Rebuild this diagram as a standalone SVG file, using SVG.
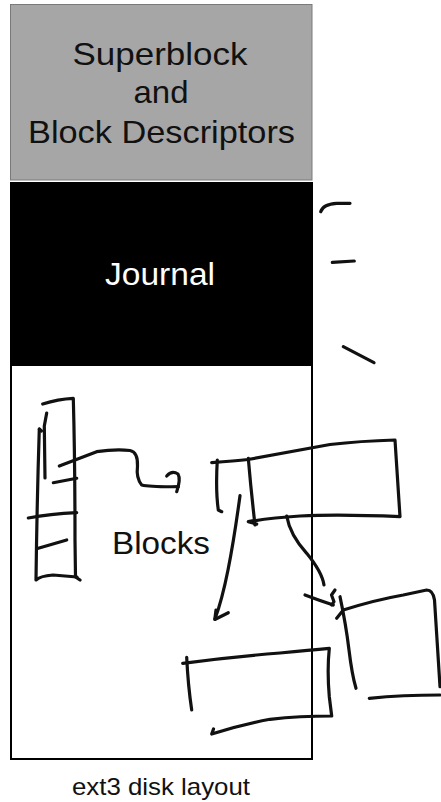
<svg xmlns="http://www.w3.org/2000/svg" width="441" height="802" viewBox="0 0 441 802">
<style>
.lbl{font-family:"Liberation Sans",Arial,Helvetica,sans-serif;font-size:32px;text-anchor:middle}
.cap{font-family:"Liberation Sans",Arial,Helvetica,sans-serif;font-size:24px;text-anchor:middle;fill:#111}
.ink{fill:none;stroke:#111;stroke-width:3.2;stroke-linecap:round;stroke-linejoin:round}
</style>
<rect width="441" height="802" fill="#fff"/>
<g id="superblock">
<rect x="10.5" y="4.5" width="301.5" height="175.5" fill="#a6a6a6" stroke="#7a7a7a" stroke-width="1"/>
<text class="lbl" x="160" y="65" textLength="175" lengthAdjust="spacingAndGlyphs" fill="#111">Superblock</text>
<text class="lbl" x="161" y="103" textLength="55" lengthAdjust="spacingAndGlyphs" fill="#111">and</text>
<text class="lbl" x="161.5" y="143" textLength="267" lengthAdjust="spacingAndGlyphs" fill="#111">Block Descriptors</text>
</g>
<g id="journal">
<rect x="10" y="182" width="303" height="183" fill="#000"/>
<text class="lbl" x="160" y="285" textLength="110" lengthAdjust="spacingAndGlyphs" fill="#fff">Journal</text>
</g>
<g id="blocks">
<rect x="11" y="365" width="301" height="394" fill="none" stroke="#000" stroke-width="2"/>
<text class="lbl" x="161" y="554" textLength="98" lengthAdjust="spacingAndGlyphs" fill="#111">Blocks</text>
</g>
<g id="caption">
<text class="cap" x="161" y="795" textLength="178" lengthAdjust="spacingAndGlyphs">ext3 disk layout</text>
</g>
<g id="sketch-index">
<path class="ink" d="M42.7,404 Q58,399 73.3,398.3 Q75,460 75,540 L75.5,577 L80,580"/>
<path class="ink" d="M39.3,429 Q37,500 36,580 Q40,576 53,575 L77,577"/>
<path class="ink" d="M39.3,429 L41.5,431"/>
<path class="ink" d="M46.7,413 L44.3,426 L45,478"/>
<path class="ink" d="M53.3,482.7 L76.7,478.3"/>
<path class="ink" d="M28.3,518 Q50,514 76.7,512.7"/>
<path class="ink" d="M38.3,548.3 Q53,544 66.7,540"/>
</g>
<g id="sketch-block-a">
<path class="ink" d="M211.7,462.7 Q235,461 248,459.5 Q300,450 330,444.5 Q360,441 395,440 Q397,470 400,516.7 Q340,514 300,516 Q270,518 248.3,521.7 L256.7,524"/>
<path class="ink" d="M248.3,458.3 Q251,490 255,525"/>
<path class="ink" d="M217.3,460 Q215.5,490 218.3,510 L221.7,511.7"/>
</g>
<g id="sketch-block-b">
<path class="ink" d="M336.7,618.3 L343.3,610 Q375,600 403.3,595 L426.7,590 Q433,590 434.5,600 Q437,640 440,686.7"/>
<path class="ink" d="M340,596.7 Q346,625 349,650 Q352,675 356,688.3"/>
<path class="ink" d="M369.3,698.3 Q403,695 440,695"/>
</g>
<g id="sketch-block-c">
<path class="ink" d="M182.7,663.3 Q230,657 280,653 Q310,650 329.3,648.3 Q327,670 329.3,696.7 L331.7,716 Q300,716 270,719.3 Q240,725 211.7,734 L213.5,729"/>
<path class="ink" d="M186.7,657.3 Q188,685 191.7,710"/>
</g>
<g id="connectors">
<path class="ink" d="M59.3,466 Q80,458 96.7,451.7 Q115,449 130,450.5 Q138,452 137.5,466 Q136,478 141.7,485 Q150,487 178.3,486.7"/>
<path class="ink" d="M166.7,476 Q172,470 178,474 Q181,479 176.7,491.7"/>
<path class="ink" d="M240,495.7 Q234,540 228,570 Q222,600 215,619"/>
<path class="ink" d="M216,610 L214.8,619.5 L228.3,612.7"/>
<path class="ink" d="M286.7,516 Q290,535 306.7,553.3 Q322,572 324,585"/>
<path class="ink" d="M305,595 Q318,600 333.3,605"/>
<path class="ink" d="M335,590 L331.5,595 L334,601.7 L331.7,605"/>
</g>
<g id="scribbles">
<path class="ink" d="M320.7,211.7 Q323,204 336.7,203.3 L350,203.3"/>
<path class="ink" d="M332.3,262.3 L354.3,261"/>
<path class="ink" d="M343.3,346.7 L374,362.7"/>
</g>
</svg>
